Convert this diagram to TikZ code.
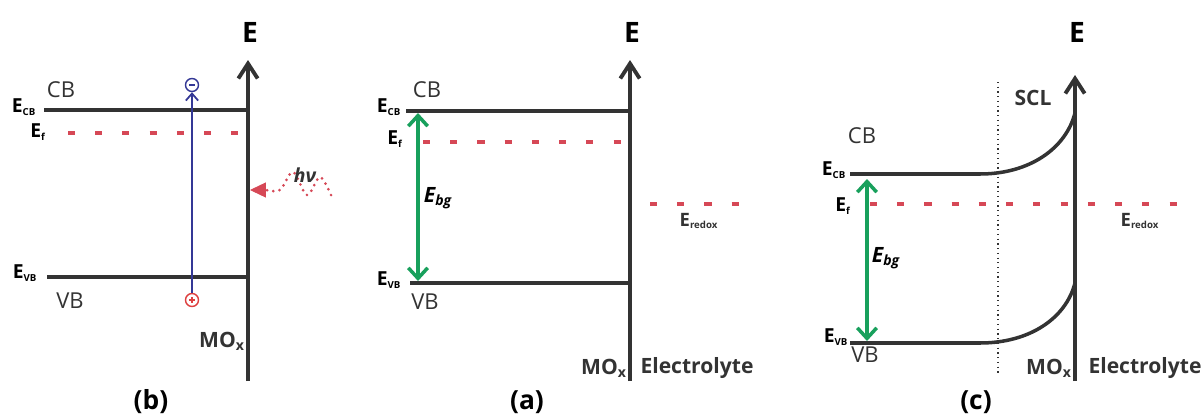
\documentclass[tikz,border=0pt]{standalone}
\usepackage{fontspec}
\setmainfont{Open Sans}
\usetikzlibrary{arrows.meta}
\definecolor{bandline}{RGB}{51,51,51}
\definecolor{fermired}{RGB}{214,72,86}
\definecolor{gapgreen}{RGB}{24,160,92}
\definecolor{elecblue}{RGB}{52,56,150}
\definecolor{holered}{RGB}{222,64,64}
% E with a small bold subscript, as on every level label
\newcommand{\elev}[1]{\textbf{E}\textsubscript{\fontsize{5.5}{6}\selectfont\bfseries #1}}

\begin{document}
\begin{tikzpicture}[x=0.02cm, y=-0.02cm,
  axis/.style={draw=bandline, line width=2.2pt,
               -{Straight Barb[length=8.5pt,width=11pt,line width=2.2pt]}},
  band/.style={draw=bandline, line width=2pt},
  fermi/.style={draw=fermired, line width=1.8pt, dash pattern=on 4pt off 11.5pt},
  gap/.style={draw=gapgreen, line width=2pt,
              {Straight Barb[length=6pt,width=11pt,line width=2pt]}-{Straight Barb[length=6pt,width=11pt,line width=2pt]}},
  excite/.style={draw=elecblue, line width=1pt,
                 -{Straight Barb[length=4pt,width=7pt,line width=1pt]}},
  photon/.style={draw=fermired, line width=1.7pt, line cap=round,
                 dash pattern=on 0pt off 3.6pt},
  charge/.style={circle, draw, line width=0.8pt, minimum size=7.4pt, inner sep=0},
  lvl/.style={font=\fontsize{11}{12}\selectfont, text=black, inner sep=1pt},
  redox/.style={font=\fontsize{10.5}{11}\selectfont, text=bandline, inner sep=1pt},
  bandtxt/.style={font=\fontsize{12.5}{14}\selectfont, text=bandline, inner sep=1pt},
  gaptxt/.style={font=\fontsize{12}{14}\selectfont\bfseries\itshape, inner sep=1pt},
  axlbl/.style={font=\fontsize{16}{18}\selectfont\bfseries, inner sep=1pt},
  side/.style={font=\fontsize{12}{14}\selectfont\bfseries, text=bandline, inner sep=1pt},
  panel/.style={font=\fontsize{15}{17}\selectfont\bfseries, inner sep=1pt},
]
\useasboundingbox[fill=white] (0,0) rectangle (1203,419);
% ---- energy axes, one per panel
\foreach \p/\ax/\tp in {b/248/60, a/630/60, c/1075/75} {
  \coordinate (\p bot) at (\ax,381);
  \coordinate (\p top) at (\ax,\tp);
  \draw[axis] (\p bot) -- (\p top);
  \node[axlbl] (\p E) at (\ax+2,32) {E};
}
% ---- (b) excitation under light
\coordinate (bcb) at (44,110);
\draw[band] (bcb) -- (bcb -| btop);
\coordinate (bef) at (68,133);
\draw[fermi] (bef) -- (bef -| btop);
\coordinate (bvb) at (47,277);
\draw[band] (bvb) -- (bvb -| btop);
\node[lvl] (bECB) at (24,107) {\elev{CB}};
\node[lvl] (bEf) at (38,132) {\elev{f}};
\node[lvl] (bEVB) at (25,273) {\elev{VB}};
\node[bandtxt] (bCB) at (61,90) {CB};
\node[bandtxt] (bVB) at (70,301) {VB};
\node[charge, draw=elecblue] (neg) at (192,85) {};
\draw[elecblue, line width=0.8pt] (neg.center) +(-3,0) -- +(3,0);
\node[charge, draw=holered] (pos) at (192,300) {};
\draw[holered, line width=0.8pt] (pos.center) +(-3,0) -- +(3,0) (pos.center) +(0,-3) -- +(0,3);
\draw[excite] (pos) -- (neg);
\coordinate (hvstart) at (331,195);
\coordinate (hvend) at (266,190);
\coordinate (hvhit) at (250,190);
\draw[photon] plot[smooth, tension=0.55] coordinates
  {(hvstart) (320,177) (307,195) (293,172) (280,190) (hvend)};
\draw[fermired, line width=0.5pt, -{Triangle[length=9pt,width=8.5pt]}] (hvend) -- (hvhit);
\node[font=\fontsize{11}{12}\selectfont\bfseries\itshape, text=bandline] (hv) at (305,175) {hν};
\node[side] (bMO) at (222,341) {MO\textsubscript{x}};
\node[panel] (bpanel) at (151,402) {(b)};
% ---- (a) flat bands before contact
\coordinate (acb) at (406,111);
\draw[band] (acb) -- (acb -| atop);
\coordinate (aef) at (423,142);
\draw[fermi] (aef) -- (aef -| atop);
\coordinate (avb) at (410,283);
\draw[band] (avb) -- (avb -| atop);
\node[lvl] (aECB) at (389,107) {\elev{CB}};
\node[lvl] (aEf) at (395,139) {\elev{f}};
\node[lvl] (aEVB) at (389,280) {\elev{VB}};
\node[bandtxt] (aCB) at (427,90) {CB};
\node[bandtxt] (aVB) at (425,302) {VB};
\coordinate (agt) at (418,113);
\coordinate (agb) at (418,281);
\draw[gap] (agt) -- (agb);
\node[gaptxt] (aEbg) at (438,198) {E\textsubscript{bg}};
\coordinate (ared1) at (650,204);
\coordinate (ared2) at (746,204);
\draw[fermi] (ared1) -- (ared2);
\node[redox] (aEredox) at (699,221) {\elev{redox}};
\node[side] (aMO) at (604,368) {MO\textsubscript{x}};
\node[side] (aEl) at (697,368) {Electrolyte};
\node[panel] (apanel) at (527,402) {(a)};
% ---- (c) band bending in the space charge layer
\coordinate (ccb) at (850,174);
\coordinate (ccbend) at (1075,113);
\draw[band] (ccb) -- (980,174) .. controls (1030,174) and (1066,148) .. (ccbend);
\coordinate (cvb) at (850,343);
\coordinate (cvbend) at (1075,283);
\draw[band] (cvb) -- (980,343) .. controls (1030,343) and (1066,318) .. (cvbend);
\coordinate (scltop) at (998,82);
\coordinate (sclbot) at (998,375);
\draw[bandline, line width=0.7pt, dotted] (scltop) -- (sclbot);
\coordinate (cef) at (870,204);
\coordinate (cefend) at (1180,204);
\draw[fermi] (cef) -- (cefend);
\node[side] (cSCL) at (1033,98) {SCL};
\node[bandtxt] (cCB) at (862,136) {CB};
\node[lvl] (cECB) at (834,170) {\elev{CB}};
\node[lvl] (cEf) at (843,206) {\elev{f}};
\node[lvl] (cEVB) at (836,337) {\elev{VB}};
\node[bandtxt] (cVB) at (865,355) {VB};
\coordinate (cgt) at (867,179);
\coordinate (cgb) at (867,341);
\draw[gap] (cgt) -- (cgb);
\node[gaptxt] (cEbg) at (886,258) {E\textsubscript{bg}};
\node[redox] (cEredox) at (1140,221) {\elev{redox}};
\node[side] (cMO) at (1049,368) {MO\textsubscript{x}};
\node[side] (cEl) at (1145,368) {Electrolyte};
\node[panel] (cpanel) at (976,402) {(c)};
\end{tikzpicture}
\end{document}
